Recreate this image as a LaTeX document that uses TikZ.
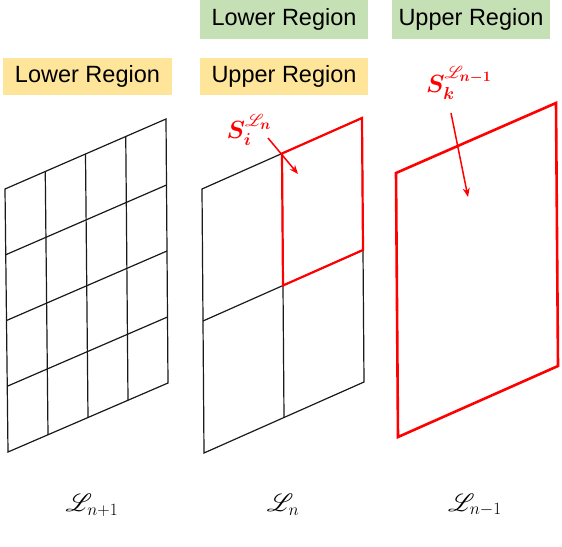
\documentclass[tikz,border=0pt]{standalone}
\usepackage{amsmath,amssymb}
\usepackage{mathrsfs}
\usepackage{fontspec}
\setmainfont{Liberation Sans}
\usepackage{xcolor}
\usepackage{tikz}
\usetikzlibrary{arrows.meta,positioning,calc}
\definecolor{boxyellow}{RGB}{255,229,153}
\definecolor{boxgreen}{RGB}{197,224,180}
\DeclareMathSizes{26}{26}{19}{15}

\begin{document}
\begin{tikzpicture}[x=1pt,y=-1pt,
  every node/.style={font=\fontsize{23.5}{27}\selectfont},
  region/.style={rectangle,inner sep=0pt,minimum height=37pt,text=black},
  lowbox/.style={region,fill=boxyellow},
  highbox/.style={region,fill=boxgreen,minimum height=39pt},
  gridline/.style={line width=1.2pt,black!90},
  cell/.style={line width=2.2pt,red},
  arrow/.style={-{Stealth[length=9pt,width=7pt]},line width=1.5pt,red},
  level/.style={font=\fontsize{26}{30}\selectfont},
  subset/.style={text=red,font=\fontsize{26}{30}\selectfont\boldmath},
]
\useasboundingbox (0,0) rectangle (562,546);

% Region boxes
\node[lowbox,minimum width=169pt]  (low1)  at (87.5,76.5) {Lower Region};
\node[lowbox,minimum width=168pt]  (up2)   at (284,76.5)  {Upper Region};
\node[highbox,minimum width=168pt] (low2)  at (284,19.5)  {Lower Region};
\node[highbox,minimum width=158pt] (up3)   at (471,19.5)  {Upper Region};

% Finest level: 4x4 grid
\coordinate (a1) at (5,189);
\coordinate (a2) at (166,119);
\coordinate (a3) at (168,383);
\coordinate (a4) at (8,452);
\foreach \t in {0.25,0.5,0.75} {
  \draw[gridline] ($(a1)!\t!(a2)$) -- ($(a4)!\t!(a3)$);
  \draw[gridline] ($(a1)!\t!(a4)$) -- ($(a2)!\t!(a3)$);
}
\draw[gridline] (a1) -- (a2) -- (a3) -- (a4) -- cycle;

% Middle level: 2x2 grid
\coordinate (b1) at (202,189);
\coordinate (b2) at (362,118);
\coordinate (b3) at (364,382);
\coordinate (b4) at (204,453);
\coordinate (btop) at ($(b1)!0.5!(b2)$);
\coordinate (bright) at ($(b2)!0.5!(b3)$);
\coordinate (bleft) at ($(b1)!0.5!(b4)$);
\coordinate (bbot) at ($(b4)!0.5!(b3)$);
\coordinate (bmid) at ($(bleft)!0.5!(bright)$);
\draw[gridline] (btop) -- (bbot);
\draw[gridline] (bleft) -- (bright);
\draw[gridline] (b1) -- (b2) -- (b3) -- (b4) -- cycle;
\draw[cell,line join=miter] (btop) -- (b2) -- (bright) -- (bmid) -- cycle;

% Coarsest level
\coordinate (c1) at (396,173);
\coordinate (c2) at (556,103);
\coordinate (c3) at (558,366);
\coordinate (c4) at (398,437);
\draw[cell,line width=2.6pt] (c1) -- (c2) -- (c3) -- (c4) -- cycle;

% Subdomain labels
\node[subset] (si) at (249,130) {$S_i^{\mathscr{L}_n}$};
\node[subset] (sk) at (459,83)  {$S_k^{\mathscr{L}_{n-1}}$};
\coordinate (si-tail) at (268,138);
\coordinate (si-head) at (298,174);
\coordinate (sk-tail) at (451,113);
\coordinate (sk-head) at (468,197);
\draw[arrow] (si-tail) -- (si-head);
\draw[arrow] (sk-tail) -- (sk-head);

% Level names
\node[level] (ln1) at (92,505)  {$\mathscr{L}_{n+1}$};
\node[level] (ln)  at (283,505) {$\mathscr{L}_{n}$};
\node[level] (ln0) at (475,505) {$\mathscr{L}_{n-1}$};

\end{tikzpicture}
\end{document}
